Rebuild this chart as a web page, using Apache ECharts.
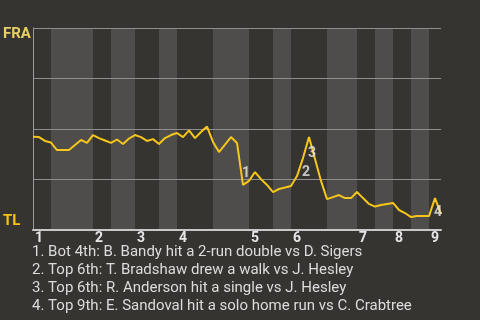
<!DOCTYPE html>
<html>
<head>
<meta charset="utf-8">
<script src="https://cdn.jsdelivr.net/npm/echarts@6/dist/echarts.min.js"></script>
<style>
html,body{margin:0;padding:0;background:#363431;}
#chart{width:480px;height:320px;}
</style>
</head>
<body>
<div id="chart"></div>
<script>
// Win probability (%) for FRA after each plate appearance (index 0 = game start)
const winProb = [
  46.2, 46.0, 44.1, 43.3, 39.6, 39.6, 39.6, 42.1, 44.6, 43.1,
  47.0, 45.5, 44.3, 43.1, 44.8, 42.6, 45.3, 47.0, 46.0, 44.1,
  45.0, 42.6, 45.5, 47.0, 48.0, 46.0, 49.3, 45.5, 48.5, 51.2,
  43.6, 38.6, 42.3, 46.0, 43.1, 22.3, 24.3, 28.7, 25.2, 22.3,
  18.8, 20.3, 21.0, 21.8, 26.7, 35.6, 46.0, 35.1, 24.3, 15.3,
  16.3, 17.3, 15.8, 15.8, 18.8, 15.8, 12.9, 11.6, 12.4, 12.9,
  13.4, 9.9, 8.4, 6.4, 6.9, 6.9, 6.9, 15.8, 7.9
];
const innings = ['1', '2', '3', '4', '5', '6', '7', '8', '9'];
const inningStarts = [0, 10, 17, 24, 36, 43, 54, 60, 66];
const bottomHalves = [[3, 10], [13, 17], [21, 24], [30, 36], [40, 43], [49, 54], [57, 60], [63, 66]];
const teamTop = 'FRA';
const teamBottom = 'TL';
const eventIdx = [35, 45, 46, 67];
const eventMarks = ['1', '2', '3', '4'];
const eventNotes = [
  '1. Bot 4th: B. Bandy hit a 2-run double vs D. Sigers',
  '2. Top 6th: T. Bradshaw drew a walk vs J. Hesley',
  '3. Top 6th: R. Anderson hit a single vs J. Hesley',
  '4. Top 9th: E. Sandoval hit a solo home run vs C. Crabtree'
];
const lastIdx = winProb.length - 1;

const chart = echarts.init(document.getElementById('chart'), null, {renderer: 'canvas'});
const lineData = winProb.map((v, i) => [i, v]);
const eventPos = ['top', 'bottom', 'bottom', 'bottom'];
const eventData = eventIdx.map((ix, k) => ({
  value: [ix, winProb[ix]],
  label: {position: eventPos[k], distance: eventPos[k] === 'top' ? 4 : (k === 2 ? 9 : 7)}
}));

chart.setOption({
  backgroundColor: '#363431',
  animation: false,
  title: {
    text: eventNotes.join('\n'),
    left: 32,
    top: 243,
    padding: 0,
    textStyle: {
      color: '#dcdcdc',
      fontFamily: 'Roboto',
      fontSize: 15,
      fontWeight: 'normal',
      lineHeight: 18
    }
  },
  grid: {left: 32, right: 39, top: 28, bottom: 90},
  xAxis: {
    type: 'value',
    min: 0,
    max: lastIdx,
    z: 1,
    splitLine: {show: false},
    axisTick: {show: false},
    axisLine: {show: true, lineStyle: {color: '#c8c8c8', width: 2}},
    axisLabel: {
      customValues: inningStarts,
      formatter: v => innings[inningStarts.indexOf(v)],
      align: 'left',
      padding: [0, 0, 0, 2],
      margin: 1,
      color: '#e6e6e6',
      fontFamily: 'Roboto',
      fontSize: 14,
      fontWeight: 'bold'
    }
  },
  yAxis: {
    type: 'value',
    min: 0,
    max: 100,
    interval: 25,
    z: 1,
    axisTick: {show: false},
    axisLine: {show: true, lineStyle: {color: '#9a9a9a', width: 1}},
    splitLine: {show: true, lineStyle: {color: '#8e8e8e', width: 1}},
    axisLabel: {
      customValues: [0, 100],
      formatter: v => v === 100 ? '{a|' + teamTop + '}' : '{b|' + teamBottom + '}',
      align: 'left',
      margin: 30,
      verticalAlign: 'middle',
      rich: {
        a: {color: '#e6d060', fontFamily: 'Roboto', fontSize: 15, fontWeight: 'bold', padding: [12, 0, 0, 0]},
        b: {color: '#f2c313', fontFamily: 'Roboto', fontSize: 15, fontWeight: 'bold', padding: [0, 0, 17, 0]}
      }
    }
  },
  series: [
    {
      type: 'line',
      data: lineData,
      z: 3,
      symbol: 'none',
      lineStyle: {color: '#f6c61b', width: 2},
      markArea: {
        silent: true,
        z: 0,
        itemStyle: {color: '#4e4d4b'},
        data: bottomHalves.map(h => [{xAxis: h[0]}, {xAxis: h[1]}])
      }
    },
    {
      type: 'scatter',
      z: 4,
      symbolSize: 1,
      itemStyle: {color: 'rgba(0,0,0,0)'},
      data: eventData,
      label: {
        show: true,
        formatter: p => eventMarks[p.dataIndex],
        offset: [3, 0],
        color: '#e8e8e8',
        fontFamily: 'Roboto',
        fontSize: 14,
        fontWeight: 'bold'
      }
    }
  ]
});
</script>
</body>
</html>
